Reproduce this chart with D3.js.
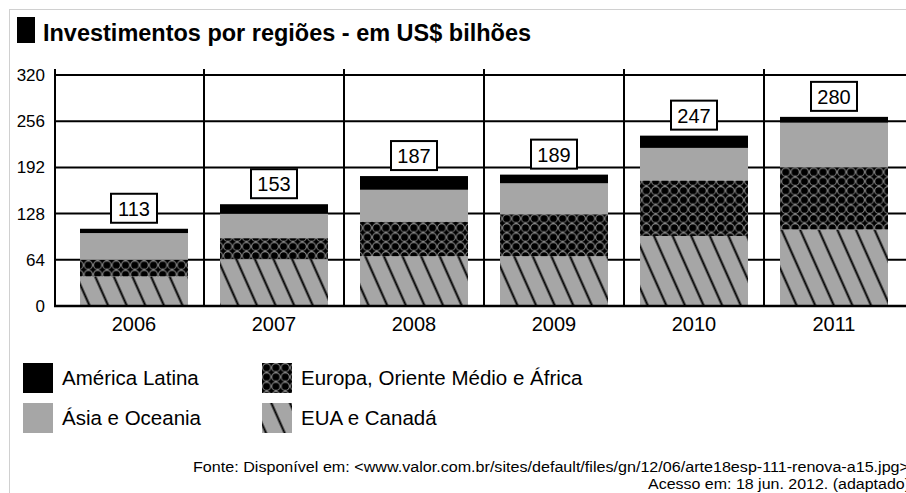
<!DOCTYPE html>
<html>
<head>
<meta charset="utf-8">
<script src="https://cdn.jsdelivr.net/npm/d3@7"></script>
<style>
  body { margin: 0; background: #fff; }
  svg text { font-family: "Liberation Sans", Arial, sans-serif; fill: #000; }
</style>
</head>
<body>
<div id="plot"></div>
<script>
// data (US$ bilhões)
const years = ["2006", "2007", "2008", "2009", "2010", "2011"];
const euaCanada = [41, 65, 69, 69, 97, 106];
const europa = [23, 29, 48, 58, 77, 86];
const asia = [37, 34, 44, 43, 45, 62];
const americaLatina = [6, 13, 19, 12, 17, 8];
const totals = [113, 153, 187, 189, 247, 280];
const yTicks = [0, 64, 128, 192, 256, 320];

const series = [
  {key: "eua", name: "EUA e Canadá", values: euaCanada, fill: "url(#hatch)"},
  {key: "eur", name: "Europa, Oriente Médio e África", values: europa, fill: "url(#circles)"},
  {key: "asia", name: "Ásia e Oceania", values: asia, fill: "#a6a6a6"},
  {key: "lat", name: "América Latina", values: americaLatina, fill: "#000"}
];

const width = 906, height = 493;

const svg = d3.select("div#plot")
  .append("svg")
  .attr("width", width)
  .attr("height", height);

// patterns
const defs = svg.append("defs");
const hatch = defs.append("pattern")
  .attr("id", "hatch")
  .attr("patternUnits", "userSpaceOnUse")
  .attr("width", 17).attr("height", 17)
  .attr("patternTransform", "rotate(-24)");
hatch.append("rect").attr("width", 17).attr("height", 17).attr("fill", "#a6a6a6");
hatch.append("line")
  .attr("x1", 8.5).attr("y1", 0).attr("x2", 8.5).attr("y2", 17)
  .attr("stroke", "#000").attr("stroke-width", 2);

const circ = defs.append("pattern")
  .attr("id", "circles")
  .attr("patternUnits", "userSpaceOnUse")
  .attr("width", 9.3).attr("height", 9.3);
circ.append("rect").attr("width", 9.3).attr("height", 9.3).attr("fill", "#000");
circ.append("circle")
  .attr("cx", 4.65).attr("cy", 4.65).attr("r", 4.1)
  .attr("fill", "none").attr("stroke", "#8f8f8f").attr("stroke-width", 1);

// light frame
svg.append("rect")
  .attr("x", 9.5).attr("y", 9.5)
  .attr("width", 1000).attr("height", 1000)
  .attr("fill", "none").attr("stroke", "#d0d0d0");

// title
svg.append("rect").attr("x", 17).attr("y", 17).attr("width", 18).attr("height", 26).attr("fill", "#000");
svg.append("text")
  .attr("x", 43).attr("y", 41)
  .attr("font-size", 23)
  .attr("font-weight", "bold")
  .attr("textLength", 488)
  .attr("lengthAdjust", "spacingAndGlyphs")
  .text("Investimentos por regiões - em US$ bilhões");

// scales
const x = d3.scaleBand()
  .domain(years)
  .range([64, 904])
  .paddingInner(0.2286)
  .paddingOuter(0.1143);
const y = d3.scaleLinear()
  .domain([0, 320])
  .range([306, 75]);

const axisX = 55, topY = 69;

// horizontal grid
svg.append("g")
  .selectAll("line")
  .data(yTicks.slice(1))
  .join("line")
  .attr("x1", axisX).attr("x2", width)
  .attr("y1", d => y(d)).attr("y2", d => y(d))
  .attr("stroke", "#000").attr("stroke-width", 2);

// vertical separators
const step = x.step();
svg.append("g")
  .selectAll("line")
  .data(years.slice(0, -1))
  .join("line")
  .attr("x1", d => x(d) + x.bandwidth() + (step - x.bandwidth()) / 2)
  .attr("x2", d => x(d) + x.bandwidth() + (step - x.bandwidth()) / 2)
  .attr("y1", topY).attr("y2", y(0))
  .attr("stroke", "#000").attr("stroke-width", 2);

// y tick labels
svg.append("g")
  .selectAll("text")
  .data(yTicks)
  .join("text")
  .attr("x", 45)
  .attr("y", d => y(d))
  .attr("dy", "0.35em")
  .attr("text-anchor", "end")
  .attr("font-size", 17)
  .text(d => d);

// stacked bars
const table = years.map((yr, i) => {
  const row = {year: yr};
  series.forEach(s => row[s.key] = s.values[i]);
  return row;
});
const stack = d3.stack().keys(series.map(s => s.key))(table);

svg.append("g")
  .selectAll("g")
  .data(stack)
  .join("g")
  .attr("fill", (d, i) => series[i].fill)
  .selectAll("rect")
  .data(d => d)
  .join("rect")
  .attr("x", d => x(d.data.year))
  .attr("y", d => y(d[1]))
  .attr("width", x.bandwidth())
  .attr("height", d => y(d[0]) - y(d[1]));

// axes lines
svg.append("line")
  .attr("x1", axisX).attr("x2", axisX)
  .attr("y1", topY).attr("y2", y(0) + 1)
  .attr("stroke", "#000").attr("stroke-width", 2);
svg.append("line")
  .attr("x1", axisX - 1).attr("x2", width)
  .attr("y1", y(0)).attr("y2", y(0))
  .attr("stroke", "#000").attr("stroke-width", 2.5);

// year labels
svg.append("g")
  .selectAll("text")
  .data(years)
  .join("text")
  .attr("x", d => x(d) + x.bandwidth() / 2)
  .attr("y", 331)
  .attr("text-anchor", "middle")
  .attr("font-size", 20)
  .text(d => d);

// total boxes
const tops = stack[stack.length - 1];
const boxW = 46, boxH = 29;
const boxes = svg.append("g")
  .selectAll("g")
  .data(years)
  .join("g")
  .attr("transform", (d, i) => `translate(${x(d) + x.bandwidth() / 2},${y(tops[i][1]) - 6})`);
boxes.append("rect")
  .attr("x", -boxW / 2).attr("y", -boxH)
  .attr("width", boxW).attr("height", boxH)
  .attr("fill", "#fff").attr("stroke", "#000").attr("stroke-width", 2);
boxes.append("text")
  .attr("y", -7)
  .attr("text-anchor", "middle")
  .attr("font-size", 20)
  .text((d, i) => totals[i]);

// legend
const legendItems = [
  {s: series[3], x: 23, y: 363},
  {s: series[2], x: 23, y: 403},
  {s: series[1], x: 262, y: 363},
  {s: series[0], x: 262, y: 403}
];
const lg = svg.append("g")
  .selectAll("g")
  .data(legendItems)
  .join("g")
  .attr("transform", d => `translate(${d.x},${d.y})`);
lg.append("rect")
  .attr("width", 30).attr("height", 30)
  .attr("fill", d => d.s.fill);
lg.append("text")
  .attr("x", 39).attr("y", 22)
  .attr("font-size", 20.5)
  .text(d => d.s.name);

// source
svg.append("text")
  .attr("x", 193).attr("y", 472)
  .attr("font-size", 14)
  .attr("textLength", 716)
  .attr("lengthAdjust", "spacingAndGlyphs")
  .text("Fonte: Disponível em: <www.valor.com.br/sites/default/files/gn/12/06/arte18esp-111-renova-a15.jpg>");
svg.append("text")
  .attr("x", 648).attr("y", 489)
  .attr("font-size", 14)
  .attr("textLength", 262)
  .attr("lengthAdjust", "spacingAndGlyphs")
  .text("Acesso em: 18 jun. 2012. (adaptado)");
</script>
</body>
</html>
